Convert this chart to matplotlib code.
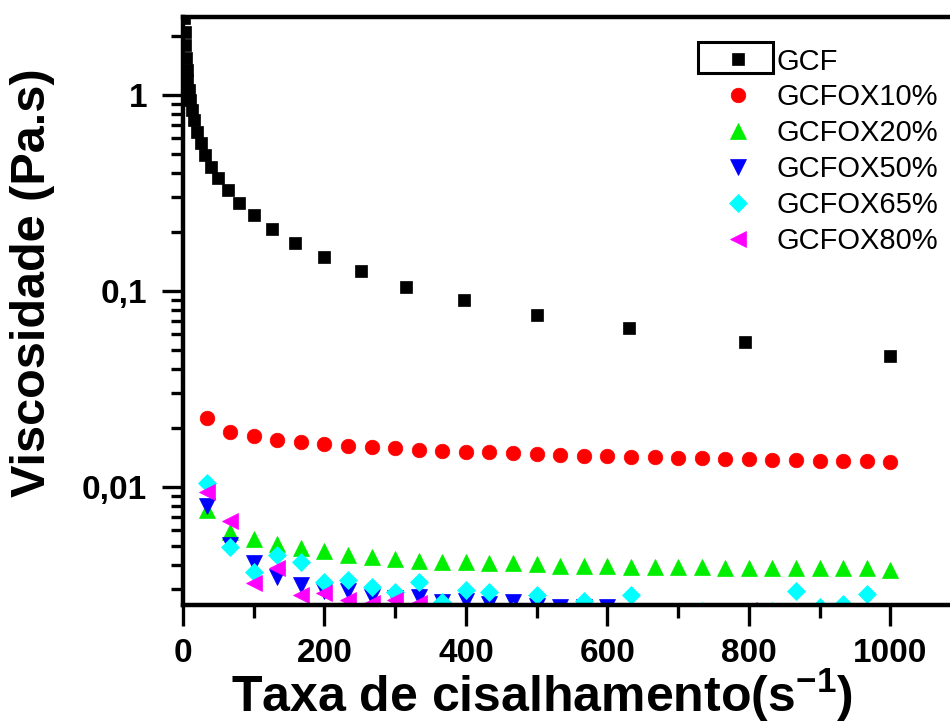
import matplotlib
matplotlib.use("Agg")
import matplotlib.pyplot as plt
import matplotlib.ticker as mticker
from matplotlib.patches import Rectangle

plt.rcParams['font.family'] = ['Liberation Sans', 'DejaVu Sans']
plt.rcParams['mathtext.fontset'] = 'custom'
plt.rcParams['mathtext.rm'] = 'Liberation Sans:bold'
plt.rcParams['mathtext.bf'] = 'Liberation Sans:bold'

# shear rate of the pure GCF run (log spaced)
x_gcf = [1.0, 1.26, 1.58, 2.0, 2.51, 3.16, 3.98, 5.01, 6.31, 7.94,
         10.0, 12.6, 15.8, 20.0, 25.1, 31.6, 39.8, 50.1, 63.1, 79.4,
         100, 126, 158, 200, 251, 316, 398, 501, 631, 794, 1000]
y_gcf = [4.0, 3.4, 2.9, 2.47, 2.1, 1.8, 1.55, 1.34, 1.19, 1.06,
         0.94, 0.84, 0.746, 0.647, 0.569, 0.494, 0.429, 0.377, 0.327, 0.281,
         0.243, 0.207, 0.176, 0.149, 0.126, 0.105, 0.090, 0.0755, 0.0648, 0.055, 0.0466]

# shear rate of the GCFOX runs (linear steps)
x_ox = [33.3, 66.7, 100, 133.3, 166.7, 200, 233.3, 266.7, 300, 333.3,
        366.7, 400, 433.3, 466.7, 500, 533.3, 566.7, 600, 633.3, 666.7,
        700, 733.3, 766.7, 800, 833.3, 866.7, 900, 933.3, 966.7, 1000]

y_ox10 = [0.0225, 0.0191, 0.0182, 0.0174, 0.0170, 0.0166, 0.0162, 0.0160, 0.0158, 0.0154,
          0.0153, 0.0151, 0.0150, 0.0149, 0.0147, 0.0146, 0.0144, 0.0144, 0.0142, 0.0142,
          0.0141, 0.0140, 0.0139, 0.0139, 0.0137, 0.0137, 0.0136, 0.0136, 0.0135, 0.0134]
y_ox20 = [0.0076, 0.0059, 0.0054, 0.0051, 0.0049, 0.0047, 0.0045, 0.0044, 0.0043, 0.0042,
          0.00415, 0.00415, 0.0041, 0.0041, 0.00405, 0.00395, 0.00395, 0.00395, 0.0039, 0.0039,
          0.0039, 0.0039, 0.00386, 0.00386, 0.00386, 0.00386, 0.00386, 0.00386, 0.00386, 0.00377]
y_ox50 = [0.0080, 0.00506, 0.0041, 0.00347, 0.00316, 0.00295, 0.00295, 0.00275, 0.0027, 0.00275,
          0.0026, 0.00262, 0.00253, 0.0026, 0.00247, 0.00245, 0.00245, 0.00245, 0.0021, 0.0021,
          0.0021, 0.0021, 0.0021, 0.0021, 0.0021, 0.0021, 0.0021, 0.0021, 0.0021, 0.0021]
y_ox65 = [0.0105, 0.00494, 0.00368, 0.0045, 0.00414, 0.00328, 0.00335, 0.00309, 0.00291, 0.00328,
          0.0026, 0.00298, 0.00291, 0.00234, 0.00281, 0.0021, 0.00262, 0.0021, 0.00281, 0.0021,
          0.0021, 0.00234, 0.0021, 0.0021, 0.00234, 0.00295, 0.00244, 0.00253, 0.00283, 0.0021]
y_ox80 = [0.00943, 0.0067, 0.00324, 0.00386, 0.00281, 0.00288, 0.00265, 0.00256, 0.00265, 0.00256,
          0.0021, 0.0021, 0.0021, 0.0021, 0.0021, 0.0021, 0.0021, 0.0021, 0.0021, 0.0021,
          0.0021, 0.0021, 0.0021, 0.00236, 0.0021, 0.0021, 0.0021, 0.0021, 0.0021, 0.0021]

series = [
    ('GCF', x_gcf, y_gcf, 's', 'black', 9),
    ('GCFOX10%', x_ox, y_ox10, 'o', '#ff0000', 10.5),
    ('GCFOX20%', x_ox, y_ox20, '^', '#00ee00', 11),
    ('GCFOX50%', x_ox, y_ox50, 'v', '#0000ff', 11),
    ('GCFOX65%', x_ox, y_ox65, 'D', '#00ffff', 9.5),
    ('GCFOX80%', x_ox, y_ox80, '<', '#ff00ff', 11),
]

fig = plt.figure(figsize=(9.5, 7.27), dpi=100)
# axes run past the right edge of the picture, as in the original crop
ax = fig.add_axes([183 / 950, 122 / 727, 778 / 950, 588 / 727])

for name, xs, ys, mk, col, ms in series:
    ax.plot(xs, ys, linestyle='none', marker=mk, color=col, markersize=ms,
            markeredgecolor=col, markeredgewidth=0.5, label=name)

ax.set_yscale('log')
ax.set_xlim(0, 1100)
ax.set_ylim(0.0025, 2.5)

ax.xaxis.set_major_locator(mticker.MultipleLocator(200))
ax.xaxis.set_minor_locator(mticker.MultipleLocator(100))
ax.yaxis.set_major_locator(mticker.LogLocator(base=10))
ax.yaxis.set_minor_locator(mticker.LogLocator(base=10, subs=range(2, 10)))
ax.yaxis.set_major_formatter(mticker.FuncFormatter(lambda v, p: f"{v:g}".replace('.', ',')))
ax.yaxis.set_minor_formatter(mticker.NullFormatter())

for s in ax.spines.values():
    s.set_linewidth(3.2)
ax.spines['right'].set_visible(False)

ax.tick_params(axis='both', which='major', direction='out', length=15, width=2.4,
               labelsize=24, pad=11)
ax.tick_params(axis='x', which='major', pad=9)
ax.tick_params(axis='both', which='minor', direction='out', length=9, width=2.4)
for lab in ax.get_xticklabels() + ax.get_yticklabels():
    lab.set_fontweight('bold')

ax.set_xlabel(r'Taxa de cisalhamento(s$^{\mathbf{-1}}$)', fontsize=36, fontweight='bold')
ax.set_ylabel('Viscosidade (Pa.s)', fontsize=35, fontweight='bold')
ax.xaxis.set_label_coords(0.461, -0.104)
ax.yaxis.set_label_coords(-0.165, 0.549)

ax.legend(loc='upper left', bbox_to_anchor=(0.684, 0.948), frameon=False,
          fontsize=21, borderpad=0, borderaxespad=0, handlelength=1.6,
          handletextpad=0.5, labelspacing=0.27, markerscale=1.0)

# box drawn round the first legend symbol in the original
fig.patches.append(Rectangle((698 / 950, 1 - 73 / 727), 75 / 950, 31 / 727,
                             transform=fig.transFigure, fill=False,
                             edgecolor='black', linewidth=2.2))

fig.savefig('out.png', dpi=100)
